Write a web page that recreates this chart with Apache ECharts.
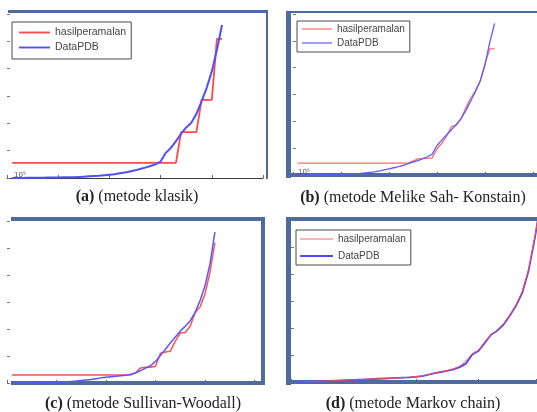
<!DOCTYPE html>
<html>
<head>
<meta charset="utf-8">
<script src="https://cdn.jsdelivr.net/npm/echarts@6/dist/echarts.min.js"></script>
<style>html,body{margin:0;padding:0;background:#fff;}#c{width:537px;height:412px;}</style>
</head>
<body>
<div id="c"></div>
<script>
// ---- data (period index, values in units of 10^5) ----
const periods = [1,2,3,4,5,6,7,8,9,10,11,12,13,14,15,16,17,18,19,20,21,22,23,24,25,26,27,28,29,30,31,32,33,34,35,36,37,38,39,40,41,42];
const periodsD = [1,2,3,4,5,6,7,8,9,10,11,12,13,14,15,16,17,18,19,20,21,22,23,24,25,26,27,28,29,30,31,32,33,34,35,36,37,38,39,40];

// (a) metode klasik
const dataPDB_a = [0.00,0.00,0.00,0.01,0.01,0.01,0.01,0.02,0.02,0.02,0.03,0.03,0.03,0.04,0.05,0.06,0.07,0.08,0.10,0.12,0.14,0.17,0.20,0.24,0.28,0.33,0.38,0.44,0.50,0.60,0.92,1.10,1.35,1.62,1.85,2.02,2.35,2.80,3.30,3.90,4.69,5.60];
const hasil_a   = [0.55,0.55,0.55,0.55,0.55,0.55,0.55,0.55,0.55,0.55,0.55,0.55,0.55,0.55,0.55,0.55,0.55,0.55,0.55,0.55,0.55,0.55,0.55,0.55,0.55,0.55,0.55,0.55,0.55,0.55,0.55,0.55,0.55,1.68,1.68,1.68,1.68,2.86,2.86,2.86,5.09,5.09];

// (b) metode Melike Sah- Konstain
const dataPDB_b = [0.00,0.00,0.00,0.00,0.01,0.01,0.01,0.02,0.02,0.03,0.03,0.04,0.05,0.06,0.08,0.10,0.12,0.15,0.19,0.23,0.27,0.31,0.36,0.42,0.48,0.54,0.60,0.68,0.78,1.10,1.30,1.50,1.68,1.88,2.10,2.40,2.75,3.10,3.50,4.10,4.95,5.65];
const hasil_b   = [0.44,0.44,0.44,0.44,0.44,0.44,0.44,0.44,0.44,0.44,0.44,0.44,0.44,0.44,0.44,0.44,0.44,0.44,0.44,0.44,0.44,0.44,0.44,0.44,0.52,0.60,0.62,0.62,0.64,0.98,1.18,1.45,1.80,1.85,2.10,2.50,2.85,3.15,3.50,4.15,4.70,4.70];

// (c) metode Sullivan-Woodall
const dataPDB_c = [0.00,0.00,0.00,0.01,0.01,0.01,0.02,0.02,0.03,0.03,0.04,0.05,0.06,0.07,0.09,0.11,0.13,0.16,0.19,0.21,0.23,0.25,0.27,0.29,0.32,0.38,0.46,0.55,0.64,0.80,1.02,1.25,1.48,1.70,1.92,2.10,2.30,2.62,3.05,3.60,4.40,5.59];
const hasil_c   = [0.30,0.30,0.30,0.30,0.30,0.30,0.30,0.30,0.30,0.30,0.30,0.30,0.30,0.30,0.30,0.30,0.30,0.30,0.30,0.30,0.30,0.30,0.30,0.30,0.30,0.38,0.56,0.58,0.58,0.62,1.10,1.15,1.18,1.55,1.85,1.87,2.10,2.60,2.82,3.30,4.10,5.20];

// (d) metode Markov chain
const dataPDB_d = [0.00,0.01,0.01,0.02,0.03,0.04,0.05,0.06,0.07,0.08,0.09,0.10,0.11,0.12,0.13,0.14,0.15,0.16,0.17,0.19,0.22,0.27,0.33,0.37,0.41,0.47,0.55,0.68,1.02,1.15,1.45,1.75,1.90,2.12,2.45,2.82,3.30,4.10,5.30,6.70];
const hasil_d   = [0.00,0.01,0.01,0.02,0.03,0.04,0.05,0.06,0.07,0.08,0.09,0.10,0.11,0.12,0.13,0.14,0.15,0.16,0.18,0.20,0.23,0.28,0.33,0.38,0.42,0.49,0.58,0.78,1.05,1.18,1.48,1.74,1.92,2.15,2.48,2.85,3.35,4.15,5.35,6.75];

const seriesNames = ['hasilperamalan', 'DataPDB'];
const captions = [
  ['(a)', ' (metode klasik)'],
  ['(b)', ' (metode Melike Sah- Konstain)'],
  ['(c)', ' (metode Sullivan-Woodall)'],
  ['(d)', ' (metode Markov chain)']
];

// ---- chart ----
const chart = echarts.init(document.getElementById('c'), null, {renderer: 'canvas'});
const pair = (xs, ys) => xs.map((x, i) => [x, ys[i]]);

const grids = [
  {left: 7,   top: 14,  width: 256,   height: 164},
  {left: 293, top: 14,  width: 240,   height: 161},
  {left: 7,   top: 221, width: 247.5, height: 162},
  {left: 291, top: 220, width: 245.6, height: 162}
];
const xMax = [50, 50, 50, 39.3];

const xAxes = grids.map((g, i) => ({
  gridIndex: i, type: 'value', min: 0, max: xMax[i], interval: 10,
  axisLabel: {show: false}, splitLine: {show: false},
  axisLine: {show: i === 0, lineStyle: {color: '#3a3a3a', width: 1.2}},
  axisTick: {show: true, inside: true, length: 3, lineStyle: {color: '#666'}}
}));
const yAxes = grids.map((g, i) => ({
  gridIndex: i, type: 'value', min: 0, max: 6, interval: 1,
  axisLabel: {show: false}, splitLine: {show: false},
  axisLine: {show: false},
  axisTick: {show: true, inside: true, length: 3, lineStyle: {color: '#777'}}
}));

function line(name, idx, data, color, width, z) {
  return {
    name: name, type: 'line', xAxisIndex: idx, yAxisIndex: idx,
    data: data, symbol: 'none', animation: false, z: z || 2,
    lineStyle: {color: color, width: width}, itemStyle: {color: color}
  };
}

const series = [
  line('hasilperamalan', 0, pair(periods, hasil_a), '#ff4a4a', 1.8),
  line('DataPDB', 0, pair(periods, dataPDB_a), '#4f4fff', 2),
  line('hasilperamalan', 1, pair(periods, hasil_b), '#ff6a6a', 1.3),
  line('DataPDB', 1, pair(periods, dataPDB_b), '#5d5dff', 1.3),
  line('hasilperamalan', 2, pair(periods, hasil_c), '#ff5252', 1.5),
  line('DataPDB', 2, pair(periods, dataPDB_c), '#5858ff', 1.5),
  line('DataPDB', 3, pair(periodsD, dataPDB_d), '#4a4aff', 1.8, 2),
  line('hasilperamalan', 3, pair(periodsD, hasil_d), '#ff4a4a', 1, 3)
];

const barIcon = (t) => 'path://M0,0L100,0L100,' + t + 'L0,' + t + 'Z';

function legend(left, top, pad, itemW, gap, fs, items) {
  return {
    data: seriesNames.map((n, i) => ({
      name: n, icon: barIcon(items[i][1]),
      itemStyle: {color: items[i][0], borderWidth: 0}
    })),
    orient: 'vertical', left: left, top: top,
    padding: pad, itemGap: gap, itemWidth: itemW, itemHeight: 10,
    symbolKeepAspect: true,
    borderColor: '#4a4a4a', borderWidth: 1, backgroundColor: '#fff',
    selectedMode: false,
    textStyle: {fontFamily: 'Liberation Sans', fontSize: fs, color: '#444'}
  };
}

const barColor = '#4e6b9b';
function bar(x, y, w, h) {
  return {type: 'rect', shape: {x: x, y: y, width: w, height: h}, style: {fill: barColor}, silent: true, z: 1};
}
function caption(cx, cy, parts) {
  return {
    type: 'text', x: cx, y: cy, z: 5,
    style: {
      text: '{b|' + parts[0] + '}{n|' + parts[1] + '}',
      align: 'center', verticalAlign: 'middle',
      rich: {
        b: {fontFamily: 'Liberation Serif', fontSize: 16, fontWeight: 'bold', fill: '#222'},
        n: {fontFamily: 'Liberation Serif', fontSize: 16, fill: '#222'}
      }
    }
  };
}
function expo(x, y) {
  return {type: 'text', x: x, y: y, z: 5, style: {text: '10⁵', fontFamily: 'DejaVu Sans', fontSize: 7, fill: '#555', verticalAlign: 'bottom'}};
}

const graphic = [
  // (a) frame
  bar(8, 10, 260, 3), bar(266, 10, 2, 169),
  // (b) frame
  bar(286, 11, 5, 167), bar(286, 11, 251, 2), bar(286, 173, 251, 4),
  // (c) frame
  bar(11, 217, 254, 4), bar(261, 217, 4, 168), bar(11, 381, 254, 4),
  // (d) frame
  bar(286, 217, 251, 4), bar(286, 217, 5, 168), bar(286, 380, 251, 4),
  expo(14, 179), expo(298, 176),
  caption(137, 197, captions[0]),
  caption(413, 198, captions[1]),
  caption(143, 404, captions[2]),
  caption(413, 404, captions[3])
];

chart.setOption({
  animation: false,
  backgroundColor: '#fff',
  grid: grids,
  xAxis: xAxes,
  yAxis: yAxes,
  legend: [
    legend(12, 22, [5, 5, 6, 7], 31, 4, 10.5, [['#ff4a4a', 6], ['#4f4fff', 6]]),
    legend(297, 21, [3, 5, 4, 5], 30, 4, 10, [['#ff6a6a', 4], ['#5d5dff', 4]]),
    legend(296, 230, [4, 5, 4, 4], 33, 7, 10, [['#ff6a6a', 3.5], ['#4a4aff', 6]])
  ],
  graphic: graphic,
  series: series
});
</script>
</body>
</html>
